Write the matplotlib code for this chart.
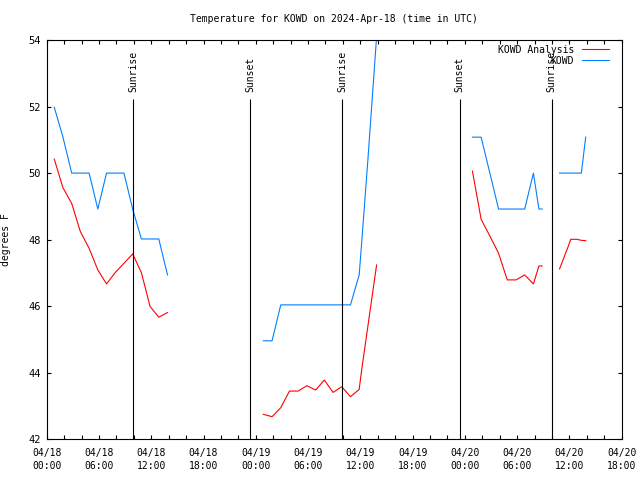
import numpy as np
import pandas as pd
import matplotlib
matplotlib.use("Agg")
import matplotlib.pyplot as plt
import matplotlib.dates as mdates

plt.rcParams['font.family'] = ['DejaVu Sans Mono']

# observation times (UTC), None marks a gap in the record
obs_time = [
    "04-18 00:52", "04-18 01:52", "04-18 02:52", "04-18 03:52", "04-18 04:52",
    "04-18 05:52", "04-18 06:52", "04-18 07:52", "04-18 08:52", "04-18 09:52",
    "04-18 10:52", "04-18 11:52", "04-18 12:52", "04-18 13:52",
    None,
    "04-19 00:52", "04-19 01:52", "04-19 02:52", "04-19 03:52", "04-19 04:52",
    "04-19 05:52", "04-19 06:52", "04-19 07:52", "04-19 08:52", "04-19 09:52",
    "04-19 10:52", "04-19 11:52", "04-19 12:09", "04-19 12:52", "04-19 13:52",
    None,
    "04-20 00:52", "04-20 01:52", "04-20 02:52", "04-20 03:52", "04-20 04:52",
    "04-20 05:52", "04-20 06:52", "04-20 07:52", "04-20 08:30", "04-20 08:52",
    None,
    "04-20 10:52", "04-20 11:52", "04-20 12:09", "04-20 12:52", "04-20 13:22",
    "04-20 13:52",
]

# KOWD observed temperature (F)
kowd_obs = [
    51.98, 51.08, 50.0, 50.0, 50.0, 48.92, 50.0, 50.0, 50.0, 48.92,
    48.02, 48.02, 48.02, 46.94,
    None,
    44.96, 44.96, 46.04, 46.04, 46.04, 46.04, 46.04, 46.04, 46.04, 46.04,
    46.04, 46.94, 47.9, 50.4, 54.1,
    None,
    51.08, 51.08, 50.0, 48.92, 48.92, 48.92, 48.92, 50.0, 48.92, 48.92,
    None,
    50.0, 50.0, 50.0, 50.0, 50.0, 51.08,
]

# KOWD analysis temperature (F)
kowd_analysis = [
    50.42, 49.56, 49.09, 48.24, 47.74, 47.09, 46.67, 47.01, 47.29, 47.57,
    47.01, 45.99, 45.67, 45.81,
    None,
    42.75, 42.68, 42.95, 43.45, 43.45, 43.61, 43.48, 43.78, 43.41, 43.58,
    43.28, 43.5, 44.08, 45.4, 47.24,
    None,
    50.06, 48.61, 48.11, 47.59, 46.79, 46.79, 46.94, 46.67, 47.21, 47.21,
    None,
    47.12, 47.8, 48.01, 48.01, 47.98, 47.97,
]

sun_events = ["04-18 09:57", "04-18 23:22", "04-19 09:55", "04-19 23:25", "04-20 09:57"]
sun_labels = ["Sunrise", "Sunset", "Sunrise", "Sunset", "Sunrise"]

# gap entries get a time half way between neighbours so NaN breaks the line
times = []
for i, s in enumerate(obs_time):
    if s is None:
        a = pd.Timestamp("2024-" + obs_time[i - 1])
        b = pd.Timestamp("2024-" + obs_time[i + 1])
        times.append(a + (b - a) / 2)
    else:
        times.append(pd.Timestamp("2024-" + s))
times = pd.to_datetime(times)
obs = np.array([np.nan if v is None else v for v in kowd_obs])
ana = np.array([np.nan if v is None else v for v in kowd_analysis])

fig = plt.figure(figsize=(6.4, 4.8), dpi=100)
ax = fig.add_axes([46.7 / 640, 1 - 439.3 / 480, 575 / 640, 399.3 / 480])

ax.plot(times, ana, color='#ff0000', lw=0.8, label='KOWD Analysis')
ax.plot(times, obs, color='#0080ff', lw=0.8, label='KOWD')

# sunrise / sunset markers
for s, lab in zip(sun_events, sun_labels):
    t = pd.Timestamp("2024-" + s)
    ax.vlines(t, 42, 52.23, color='black', lw=0.8)
    ax.text(t, 52.45, lab, rotation=90, ha='center', va='bottom', fontsize=7)

ax.set_xlim(pd.Timestamp("2024-04-18 00:00"), pd.Timestamp("2024-04-20 18:00"))
ax.set_ylim(42, 54)
ax.set_yticks(np.arange(42, 55, 2))
ax.xaxis.set_major_locator(mdates.HourLocator(byhour=[0, 6, 12, 18]))
ax.xaxis.set_major_formatter(mdates.DateFormatter('%m/%d\n%H:%M'))
ax.xaxis.set_minor_locator(mdates.HourLocator(interval=2))

ax.tick_params(axis='both', which='both', direction='in', top=True, right=True,
               length=2.8, width=0.8, color='black')
ax.tick_params(axis='x', which='major', labelsize=7, pad=6)
ax.tick_params(axis='y', labelsize=7.5, pad=4.5)
for lab in ax.get_xticklabels():
    lab.set_linespacing(1.45)
for sp in ax.spines.values():
    sp.set_linewidth(0.8)

ax.set_ylabel('degrees F', fontsize=7)
ax.yaxis.set_label_coords(-0.062, 0.5)

fig.text(334 / 640, 1 - 19 / 480, 'Temperature for KOWD on 2024-Apr-18 (time in UTC)',
         ha='center', va='center', fontsize=7)

ax.legend(loc='upper right', bbox_to_anchor=(0.9784, 0.988), markerfirst=False,
          frameon=False, fontsize=7, handlelength=2.84, handletextpad=0.79,
          borderpad=0, borderaxespad=0, labelspacing=0.1)

fig.savefig('out.png', dpi=100)
